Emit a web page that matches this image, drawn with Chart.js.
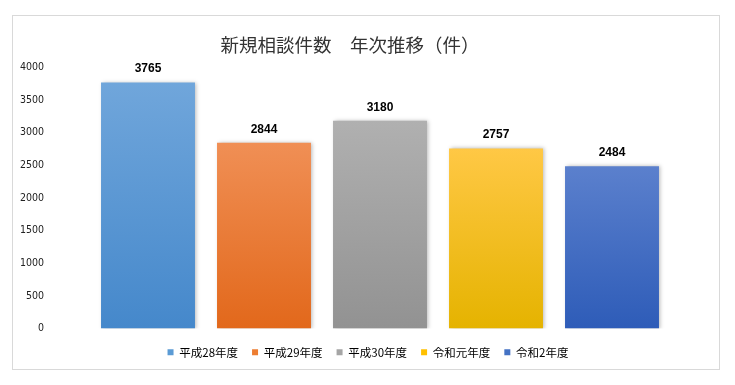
<!DOCTYPE html>
<html>
<head>
<meta charset="utf-8">
<script src="https://cdn.jsdelivr.net/npm/chart.js@4/dist/chart.umd.min.js"></script>
<style>
  html, body { margin: 0; padding: 0; background: #ffffff; }
  #wrap { position: relative; width: 735px; height: 385px; }
  #frame { position: absolute; left: 12px; top: 15px; width: 708px; height: 355px; border: 1px solid #d9d9d9; box-sizing: border-box; }
  canvas { position: absolute; left: 0; top: 0; }
</style>
</head>
<body>
<div id="wrap">
  <div id="frame"></div>
  <canvas id="c" width="735" height="385"></canvas>
</div>
<script>
const titleText = '新規相談件数\u3000年次推移（件）';
const categories = ['平成28年度', '平成29年度', '平成30年度', '令和元年度', '令和2年度'];
const counts = [3765, 2844, 3180, 2757, 2484];
const yMin = 0;
const yMax = 4000;
const yStep = 500;

const solidColors = ['#5b9bd5', '#ed7d31', '#a5a5a5', '#ffc000', '#4472c4'];
const topColors = ['#70a6db', '#f08f55', '#b0b0b0', '#ffc845', '#5b80cd'];
const bottomColors = ['#4588cb', '#e2681b', '#929292', '#e5b300', '#2e5cb8'];

function barGradient(context) {
  const chart = context.chart;
  const i = context.dataIndex;
  const yScale = chart.scales.y;
  if (!chart.chartArea || !yScale) return solidColors[i];
  const top = yScale.getPixelForValue(counts[i]);
  const bottom = yScale.getPixelForValue(0);
  const g = chart.ctx.createLinearGradient(0, top, 0, bottom);
  g.addColorStop(0, topColors[i]);
  g.addColorStop(1, bottomColors[i]);
  return g;
}

const barDecor = {
  id: 'barDecor',
  afterLayout(chart) {
    if (chart.legend) {
      chart.legend.left += 27;
      chart.legend.right += 27;
    }
    if (chart.titleBlock) {
      chart.titleBlock.left += 9;
      chart.titleBlock.right += 9;
    }
  },
  beforeDatasetsDraw(chart) {
    const ctx = chart.ctx;
    ctx.save();
    ctx.shadowColor = 'rgba(0,0,0,0.28)';
    ctx.shadowBlur = 4;
    ctx.shadowOffsetX = 1.5;
    ctx.shadowOffsetY = 0;
  },
  afterDatasetsDraw(chart) {
    const ctx = chart.ctx;
    ctx.restore();
    ctx.save();
    ctx.font = 'bold 12px "Liberation Sans", sans-serif';
    ctx.fillStyle = '#000000';
    ctx.textAlign = 'center';
    ctx.textBaseline = 'middle';
    const meta = chart.getDatasetMeta(0);
    meta.data.forEach((bar, i) => {
      ctx.fillText(String(counts[i]), bar.x, bar.y - 13.5);
    });
    ctx.restore();
  }
};

new Chart(document.getElementById('c'), {
  type: 'bar',
  data: {
    labels: categories,
    datasets: [{
      data: counts,
      backgroundColor: barGradient,
      borderWidth: 0,
      barPercentage: 0.81,
      categoryPercentage: 1.0
    }]
  },
  options: {
    responsive: false,
    animation: false,
    layout: { padding: { left: 12, right: 65, top: 0, bottom: 17 } },
    plugins: {
      tooltip: { enabled: false },
      title: {
        display: true,
        text: titleText,
        color: '#333333',
        font: { family: '"Noto Sans CJK JP", sans-serif', size: 18.5, weight: 'normal', lineHeight: 1.2 },
        padding: { top: 34, bottom: 11 }
      },
      legend: {
        display: true,
        position: 'bottom',
        onClick: () => {},
        labels: {
          color: '#222222',
          font: { family: '"Noto Sans CJK JP", sans-serif', size: 11.5 },
          boxWidth: 6,
          boxHeight: 6,
          padding: 14,
          generateLabels: () => categories.map((name, i) => ({
            text: name,
            fillStyle: solidColors[i],
            strokeStyle: solidColors[i],
            lineWidth: 0,
            hidden: false,
            index: i,
            datasetIndex: 0
          }))
        }
      }
    },
    scales: {
      x: {
        grid: { display: false, drawTicks: false },
        border: { display: false },
        ticks: { display: false },
        afterFit: (s) => { s.height = 4; }
      },
      y: {
        min: yMin,
        max: yMax,
        grid: { display: false, drawTicks: false },
        border: { display: false },
        afterFit: (s) => { s.width = 78; },
        ticks: {
          stepSize: yStep,
          padding: 46,
          color: '#222222',
          callback: (v) => String(v),
          font: { family: '"DejaVu Sans Condensed", "DejaVu Sans", sans-serif', size: 10.5 }
        }
      }
    }
  },
  plugins: [barDecor]
});
</script>
</body>
</html>
